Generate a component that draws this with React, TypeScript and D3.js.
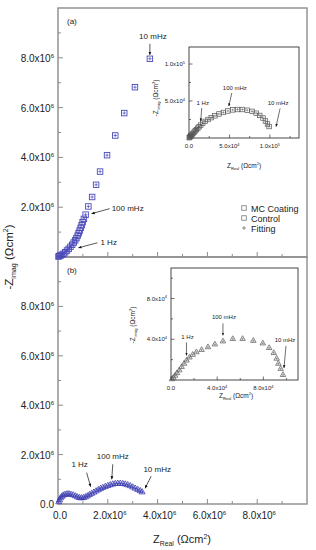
import React from 'react';
import * as d3 from 'd3';

// ---------- DATA (Ω·cm²) ----------
// Panel (a) main: MC Coating (Z_real, -Z_imag)
const mcCoating: [number, number][] = [
  [20000, 20000], [50000, 40000], [100000, 60000], [160000, 90000], [220000, 130000],
  [290000, 190000], [360000, 260000], [430000, 330000], [500000, 410000], [570000, 490000],
  [630000, 580000], [690000, 670000], [740000, 760000], [790000, 860000], [830000, 960000],
  [870000, 1060000], [910000, 1170000], [950000, 1280000], [990000, 1400000], [1040000, 1530000],
  [1110000, 1700000], [1220000, 2030000], [1370000, 2410000], [1530000, 2900000], [1690000, 3430000],
  [1970000, 4090000], [2300000, 4880000], [2660000, 5780000], [3090000, 6820000], [3690000, 7960000],
];
// Panel (b) main: Control
const control: [number, number][] = [
  [30000, 80000], [60000, 160000], [100000, 240000], [150000, 300000], [210000, 350000],
  [280000, 380000], [360000, 400000], [440000, 400000], [520000, 380000], [610000, 360000],
  [700000, 320000], [780000, 280000], [860000, 250000], [940000, 240000], [1020000, 250000],
  [1100000, 280000], [1180000, 320000], [1260000, 370000], [1350000, 420000], [1440000, 470000],
  [1530000, 520000], [1620000, 570000], [1710000, 620000], [1800000, 660000], [1900000, 700000],
  [2000000, 740000], [2100000, 770000], [2200000, 800000], [2300000, 820000], [2400000, 830000],
  [2500000, 830000], [2600000, 820000], [2700000, 800000], [2800000, 770000], [2900000, 730000],
  [3000000, 680000], [3100000, 630000], [3200000, 580000], [3300000, 530000], [3380000, 480000],
];
// Inset (a): high-frequency zoom, squares
const insetSquares: [number, number][] = [
  [300, 400], [800, 1000], [1500, 1900], [2300, 2900], [3200, 4000], [4200, 5200],
  [5300, 6500], [6500, 8000], [7800, 9600], [9200, 11300], [10800, 13200], [12500, 15200],
  [14500, 17500], [17000, 20000], [20000, 22500], [23500, 25000], [27500, 27500], [32000, 30000],
  [37000, 32500], [42500, 34500], [48000, 36500], [54000, 38000], [60000, 38500], [66000, 38500],
  [72000, 37500], [78000, 36000], [83000, 33500], [87500, 30500], [91500, 27000], [94500, 23000],
  [97000, 19000], [99000, 15500],
];
// Inset (b): triangles
const insetTriangles: [number, number][] = [
  [800, 800], [2000, 2300], [3500, 4300], [5200, 6800], [7200, 9600], [9200, 12800],
  [11300, 16000], [13500, 19200], [16000, 22200], [18800, 24800], [22000, 27300], [26500, 29600],
  [32000, 32300], [38000, 35000], [45000, 38000], [53500, 40300], [62000, 40400], [71300, 38500],
  [79500, 36000], [85000, 31500], [89000, 26500], [91500, 21000], [93000, 16000], [95000, 11000],
  [97000, 5000],
];

const mainXTicks = [0, 2e6, 4e6, 6e6, 8e6];
const mainXTickLabels = ['0.0', '2.0x10^6', '4.0x10^6', '6.0x10^6', '8.0x10^6'];
const mainYTicksA = [2e6, 4e6, 6e6, 8e6];
const mainYTickLabelsA = ['2.0x10^6', '4.0x10^6', '6.0x10^6', '8.0x10^6'];
const mainYTicksB = [0, 2e6, 4e6, 6e6, 8e6];
const mainYTickLabelsB = ['0.0', '2.0x10^6', '4.0x10^6', '6.0x10^6', '8.0x10^6'];
const insetAXTicks = [0, 5e4, 1e5];
const insetAXTickLabels = ['0.0', '5.0x10^4', '1.0x10^5'];
const insetAYTicks = [5e4, 1e5];
const insetAYTickLabels = ['5.0x10^4', '1.0x10^5'];
const insetBXTicks = [0, 4e4, 8e4];
const insetBXTickLabels = ['0.0', '4.0x10^4', '8.0x10^4'];
const insetBYTicks = [4e4, 8e4];
const insetBYTickLabels = ['4.0x10^4', '8.0x10^4'];
const legendLabels = ['MC Coating', 'Control', 'Fitting'];

// ---------- LAYOUT ----------
const FONT = 'Liberation Sans, Arial, sans-serif';
const TXT = '#222';
const FRAME = '#8c8c8c';
const BLUE = '#4848b8';
const BLUE_B = '#3a3ab0';
const GRAY = '#555';

const xMain = d3.scaleLinear().domain([0, 10e6]).range([58, 307]);
const yA = d3.scaleLinear().domain([0, 10e6]).range([257, 8]);
const yB = d3.scaleLinear().domain([0, 10e6]).range([504, 257]);
const xIA = d3.scaleLinear().domain([0, 1.36e5]).range([189, 299]);
const yIA = d3.scaleLinear().domain([0, 1.23e5]).range([138, 47]);
const xIB = d3.scaleLinear().domain([0, 1.1e5]).range([171, 298]);
const yIB = d3.scaleLinear().domain([0, 1.1e5]).range([380, 268]);

function sci(s: string, sup: number, dy: number) {
  const [b, e] = s.split('^');
  if (!e) return b;
  return (
    <>
      {b}
      <tspan dy={-dy} fontSize={sup}>{e}</tspan>
    </>
  );
}

function Square({ x, y, s, c, w }: any) {
  return <rect x={x - s / 2} y={y - s / 2} width={s} height={s} fill="none" stroke={c} strokeWidth={w} />;
}
function Plus({ x, y, s, c, w }: any) {
  return (
    <path d={`M${x - s / 2},${y}H${x + s / 2}M${x},${y - s / 2}V${y + s / 2}`} stroke={c} strokeWidth={w} fill="none" />
  );
}
function Tri({ x, y, s, c, w }: any) {
  const h = (s * Math.sqrt(3)) / 2;
  return (
    <path
      d={`M${x},${y - (2 * h) / 3}L${x + s / 2},${y + h / 3}L${x - s / 2},${y + h / 3}Z`}
      fill="none"
      stroke={c}
      strokeWidth={w}
    />
  );
}

function Arrow({ x1, y1, x2, y2, w = 0.7 }: any) {
  return <line x1={x1} y1={y1} x2={x2} y2={y2} stroke="#111" strokeWidth={w} markerEnd="url(#ah)" />;
}

function ZLabel({ x, y, size, kind, rotate }: any) {
  const sub = size * 0.62;
  const transform = rotate ? `translate(${x},${y}) rotate(-90)` : `translate(${x},${y})`;
  return (
    <text transform={transform} textAnchor="middle" fontFamily={FONT} fontSize={size} fill={TXT}>
      {kind === 'imag' ? '-Z' : 'Z'}
      <tspan dy={size * 0.3} fontSize={sub}>{kind === 'imag' ? 'imag' : 'Real'}</tspan>
      <tspan dy={-size * 0.3}> (Ωcm</tspan>
      <tspan dy={-size * 0.4} fontSize={sub}>2</tspan>
      <tspan dy={size * 0.4}>)</tspan>
    </text>
  );
}

function Inset({ xs, ys, xt, xtl, yt, ytl, minorX, minorY, children }: any) {
  const [x0, x1] = xs.range();
  const [y0, y1] = ys.range();
  const fs = 6;
  return (
    <g>
      <rect x={x0} y={y1} width={x1 - x0} height={y0 - y1} fill="#fff" stroke="#333" strokeWidth={0.9} />
      {minorX.map((v: number) => (
        <line key={'mx' + v} x1={xs(v)} x2={xs(v)} y1={y0} y2={y0 - 2} stroke="#333" strokeWidth={0.7} />
      ))}
      {xt.map((v: number) => (
        <line key={'x' + v} x1={xs(v)} x2={xs(v)} y1={y0} y2={y0 - 3.5} stroke="#333" strokeWidth={0.7} />
      ))}
      {minorY.map((v: number) => (
        <line key={'my' + v} x1={x0} x2={x0 + 2} y1={ys(v)} y2={ys(v)} stroke="#333" strokeWidth={0.7} />
      ))}
      {yt.map((v: number) => (
        <line key={'y' + v} x1={x0} x2={x0 + 3.5} y1={ys(v)} y2={ys(v)} stroke="#333" strokeWidth={0.7} />
      ))}
      {xt.map((v: number, i: number) => (
        <text key={'xl' + v} x={xs(v)} y={y0 + 10} textAnchor="middle" fontFamily={FONT} fontSize={fs} fill={TXT}>
          {sci(xtl[i], 4, 2.5)}
        </text>
      ))}
      {yt.map((v: number, i: number) => (
        <text key={'yl' + v} x={x0 - 4} y={ys(v) + 2} textAnchor="end" fontFamily={FONT} fontSize={fs} fill={TXT}>
          {sci(ytl[i], 4, 2.5)}
        </text>
      ))}
      {children}
    </g>
  );
}

export default function App() {
  // annotation anchor points
  const a10 = mcCoating[mcCoating.length - 1];
  const a100 = mcCoating[20];
  const a1 = mcCoating[8];
  const b1 = control[18];
  const b100 = control[27];
  const b10 = control[control.length - 1];
  const ia1 = insetSquares[12];
  const ia100 = insetSquares[20];
  const ia10 = insetSquares[insetSquares.length - 1];
  const ib1 = insetTriangles[8];
  const ib100 = insetTriangles[14];
  const ib10 = insetTriangles[insetTriangles.length - 1];
  const annFs = 8;
  const insFs = 6;

  return (
    <svg width={316} height={550} style={{ position: 'absolute', left: 0, top: 0, background: '#fff' }}>
      <defs>
        <marker id="ah" viewBox="0 0 10 10" refX="9" refY="5" markerWidth="5" markerHeight="5" orient="auto">
          <path d="M0,1L10,5L0,9Z" fill="#111" />
        </marker>
      </defs>
      <rect width={316} height={550} fill="#fff" />

      {/* frames */}
      <rect x={58} y={8} width={249} height={249} fill="none" stroke={FRAME} strokeWidth={1.4} />
      <rect x={58} y={257} width={249} height={247} fill="none" stroke={FRAME} strokeWidth={1.4} />

      {/* main x ticks (both panels) */}
      {d3.range(1e6, 10e6, 1e6).map((v) => {
        const major = v % 2e6 === 0;
        const len = major ? 5 : 3;
        return (
          <g key={'mxt' + v}>
            <line x1={xMain(v)} x2={xMain(v)} y1={257} y2={257 - len} stroke={FRAME} strokeWidth={1} />
            <line x1={xMain(v)} x2={xMain(v)} y1={504} y2={504 - len} stroke={FRAME} strokeWidth={1} />
          </g>
        );
      })}
      {/* main y ticks */}
      {d3.range(1e6, 10e6, 1e6).map((v) => {
        const major = v % 2e6 === 0;
        const len = major ? 5 : 3;
        return (
          <g key={'myt' + v}>
            <line x1={58} x2={58 + len} y1={yA(v)} y2={yA(v)} stroke={FRAME} strokeWidth={1} />
            <line x1={58} x2={58 + len} y1={yB(v)} y2={yB(v)} stroke={FRAME} strokeWidth={1} />
          </g>
        );
      })}
      {mainYTicksA.map((v, i) => (
        <text key={'ya' + v} x={54} y={yA(v) + 4} textAnchor="end" fontFamily={FONT} fontSize={10} fill={TXT}>
          {sci(mainYTickLabelsA[i], 6, 4)}
        </text>
      ))}
      {mainYTicksB.map((v, i) => (
        <text key={'yb' + v} x={54} y={yB(v) + 4} textAnchor="end" fontFamily={FONT} fontSize={10} fill={TXT}>
          {sci(mainYTickLabelsB[i], 6, 4)}
        </text>
      ))}
      {mainXTicks.map((v, i) => (
        <text key={'xb' + v} x={xMain(v) + 2} y={519} textAnchor="middle" fontFamily={FONT} fontSize={10} fill={TXT}>
          {sci(mainXTickLabels[i], 6, 4)}
        </text>
      ))}

      <ZLabel x={182} y={543} size={11} kind="real" />
      <ZLabel x={13} y={257} size={11.5} kind="imag" rotate />

      <text x={67} y={24} fontFamily={FONT} fontSize={8} fill={TXT}>(a)</text>
      <text x={67} y={273} fontFamily={FONT} fontSize={8} fill={TXT}>(b)</text>

      {/* panel (a) data */}
      {mcCoating.map(([x, y], i) => (
        <g key={'a' + i}>
          <Square x={xMain(x)} y={yA(y)} s={5.5} c={BLUE} w={0.9} />
          <Plus x={xMain(x)} y={yA(y)} s={3.5} c={BLUE} w={0.7} />
        </g>
      ))}
      {/* panel (b) data */}
      {control.map(([x, y], i) => (
        <g key={'b' + i}>
          <Tri x={xMain(x)} y={yB(y)} s={6} c={BLUE_B} w={0.8} />
          <Plus x={xMain(x)} y={yB(y)} s={3} c={BLUE_B} w={0.6} />
        </g>
      ))}

      {/* panel (a) annotations */}
      <text x={xMain(a10[0]) + 3} y={yA(a10[1]) - 20} textAnchor="middle" fontFamily={FONT} fontSize={annFs} fill={TXT}>10 mHz</text>
      <Arrow x1={xMain(a10[0])} y1={yA(a10[1]) - 15} x2={xMain(a10[0])} y2={yA(a10[1]) - 4} />
      <text x={xMain(a100[0]) + 26} y={yA(a100[1]) - 4} fontFamily={FONT} fontSize={annFs} fill={TXT}>100 mHz</text>
      <Arrow x1={xMain(a100[0]) + 24} y1={yA(a100[1]) - 6} x2={xMain(a100[0]) + 6} y2={yA(a100[1]) - 1} />
      <text x={xMain(a1[0]) + 30} y={yA(a1[1]) - 2} fontFamily={FONT} fontSize={annFs} fill={TXT}>1 Hz</text>
      <Arrow x1={xMain(a1[0]) + 27} y1={yA(a1[1]) - 4} x2={xMain(a1[0]) + 8} y2={yA(a1[1]) + 1} />

      {/* panel (b) annotations */}
      <text x={xMain(b1[0]) - 12} y={yB(b1[1]) - 27} textAnchor="middle" fontFamily={FONT} fontSize={annFs} fill={TXT}>1 Hz</text>
      <Arrow x1={xMain(b1[0]) - 5} y1={yB(b1[1]) - 21} x2={xMain(b1[0]) - 1} y2={yB(b1[1]) - 7} />
      <text x={xMain(b100[0])} y={yB(b100[1]) - 25} textAnchor="middle" fontFamily={FONT} fontSize={annFs} fill={TXT}>100 mHz</text>
      <Arrow x1={xMain(b100[0])} y1={yB(b100[1]) - 20} x2={xMain(b100[0]) - 1} y2={yB(b100[1]) - 5} />
      <text x={xMain(b10[0]) + 15} y={yB(b10[1]) - 20} textAnchor="middle" fontFamily={FONT} fontSize={annFs} fill={TXT}>10 mHz</text>
      <Arrow x1={xMain(b10[0]) + 9} y1={yB(b10[1]) - 16} x2={xMain(b10[0]) + 3} y2={yB(b10[1]) - 4} />

      {/* legend */}
      {legendLabels.map((l, i) => (
        <g key={'lg' + i}>
          {i < 2 ? (
            <Square x={244} y={208 + i * 10} s={4.5} c="#777" w={0.8} />
          ) : (
            <Plus x={244} y={208 + i * 10} s={4} c="#777" w={0.8} />
          )}
          <text x={251} y={211.5 + i * 10} fontFamily={FONT} fontSize={9} fill={TXT}>{l}</text>
        </g>
      ))}

      {/* inset (a) */}
      <Inset xs={xIA} ys={yIA} xt={insetAXTicks} xtl={insetAXTickLabels} yt={insetAYTicks} ytl={insetAYTickLabels}
        minorX={[2.5e4, 7.5e4, 1.25e5]} minorY={[2.5e4, 7.5e4]}>
        {insetSquares.map(([x, y], i) => (
          <g key={'ia' + i}>
            <Square x={xIA(x)} y={yIA(y)} s={4.5} c={GRAY} w={0.7} />
            <Plus x={xIA(x)} y={yIA(y)} s={2.6} c={GRAY} w={0.5} />
          </g>
        ))}
        <text x={xIA(ia1[0]) + 2} y={yIA(ia1[1]) - 20} textAnchor="middle" fontFamily={FONT} fontSize={insFs} fill={TXT}>1 Hz</text>
        <Arrow x1={xIA(ia1[0]) + 1} y1={yIA(ia1[1]) - 17} x2={xIA(ia1[0])} y2={yIA(ia1[1]) - 4} w={0.6} />
        <text x={xIA(ia100[0]) + 7} y={yIA(ia100[1]) - 21} textAnchor="middle" fontFamily={FONT} fontSize={insFs} fill={TXT}>100 mHz</text>
        <Arrow x1={xIA(ia100[0]) + 4} y1={yIA(ia100[1]) - 18} x2={xIA(ia100[0]) + 1} y2={yIA(ia100[1]) - 5} w={0.6} />
        <text x={xIA(ia10[0]) + 9} y={yIA(ia10[1]) - 22} textAnchor="middle" fontFamily={FONT} fontSize={insFs} fill={TXT}>10 mHz</text>
        <Arrow x1={xIA(ia10[0]) + 11} y1={yIA(ia10[1]) - 18} x2={xIA(ia10[0]) + 7} y2={yIA(ia10[1])} w={0.6} />
      </Inset>
      <ZLabel x={xIA.range()[0] + 55} y={168} size={6.5} kind="real" />
      <ZLabel x={158} y={98} size={6.5} kind="imag" rotate />

      {/* inset (b) */}
      <Inset xs={xIB} ys={yIB} xt={insetBXTicks} xtl={insetBXTickLabels} yt={insetBYTicks} ytl={insetBYTickLabels}
        minorX={[2e4, 6e4, 1e5]} minorY={[2e4, 6e4, 1e5]}>
        {insetTriangles.map(([x, y], i) => (
          <g key={'ib' + i}>
            <Tri x={xIB(x)} y={yIB(y)} s={5.5} c={GRAY} w={0.7} />
            <Plus x={xIB(x)} y={yIB(y)} s={2.4} c={GRAY} w={0.5} />
          </g>
        ))}
        <text x={xIB(ib1[0]) - 2} y={yIB(ib1[1]) - 18} textAnchor="middle" fontFamily={FONT} fontSize={insFs} fill={TXT}>1 Hz</text>
        <Arrow x1={xIB(ib1[0]) - 3} y1={yIB(ib1[1]) - 15} x2={xIB(ib1[0]) - 3} y2={yIB(ib1[1]) - 2} w={0.6} />
        <text x={xIB(ib100[0]) + 1} y={yIB(ib100[1]) - 22} textAnchor="middle" fontFamily={FONT} fontSize={insFs} fill={TXT}>100 mHz</text>
        <Arrow x1={xIB(ib100[0])} y1={yIB(ib100[1]) - 18} x2={xIB(ib100[0])} y2={yIB(ib100[1]) - 6} w={0.6} />
        <text x={xIB(ib10[0]) + 2} y={yIB(ib10[1]) - 33} textAnchor="middle" fontFamily={FONT} fontSize={insFs} fill={TXT}>10 mHz</text>
        <Arrow x1={xIB(ib10[0]) + 3} y1={yIB(ib10[1]) - 29} x2={xIB(ib10[0]) + 1} y2={yIB(ib10[1]) - 7} w={0.6} />
      </Inset>
      <ZLabel x={236} y={398} size={6.5} kind="real" />
      <ZLabel x={135} y={325} size={6.5} kind="imag" rotate />
    </svg>
  );
}
